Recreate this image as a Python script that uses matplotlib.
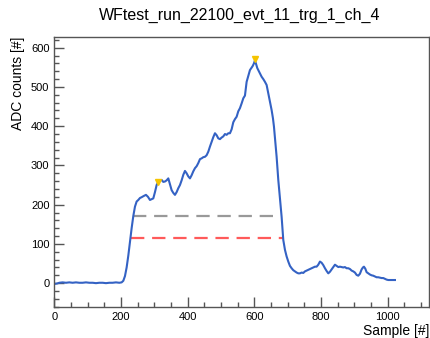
import matplotlib
matplotlib.use('Agg')
import matplotlib.pyplot as plt
from matplotlib.ticker import MultipleLocator

plt.rcParams['font.family'] = ['Liberation Sans', 'DejaVu Sans']

title = 'WFtest_run_22100_evt_11_trg_1_ch_4'

# Waveform samples
sample = [0, 8, 15, 25, 35, 45, 55, 65, 75, 85, 95, 105, 115, 125, 135, 145,
          155, 165, 175, 185, 195, 202, 207, 212, 217, 222, 227, 232, 237, 242,
          247, 252, 257, 262, 268, 275, 281, 287, 292, 297, 302, 307, 312, 317,
          322, 327, 332, 337, 342, 347, 352, 357, 362, 367, 372, 377, 382, 387,
          392, 397, 402, 407, 412, 417, 422, 427, 432, 437, 442, 447, 452, 457,
          462, 467, 472, 477, 482, 487, 492, 497, 502, 507, 512, 517, 522, 527,
          532, 537, 542, 547, 552, 557, 562, 567, 572, 577, 582, 587, 591, 595,
          599, 602, 606, 609, 612, 617, 622, 627, 632, 637, 642, 647, 652, 656,
          659, 663, 667, 672, 677, 682, 687, 692, 697, 702, 707, 712, 717, 722,
          727, 732, 737, 742, 747, 752, 757, 762, 767, 772, 777, 782, 787, 792,
          797, 802, 807, 812, 817, 822, 827, 832, 837, 842, 847, 852, 857, 862,
          867, 872, 877, 882, 887, 892, 897, 902, 907, 912, 917, 922, 926, 929,
          933, 937, 942, 947, 952, 957, 962, 967, 972, 977, 982, 987, 992, 997,
          1002, 1007, 1012, 1017, 1022]
adc = [-2, -1, 1, 2, 1, 2, 1, 2, 1, 1, 2, 1, 1, 0, 1, 1,
       0, 1, 1, 2, 1, 2, 6, 18, 40, 70, 105, 140, 171, 195,
       208, 212, 217, 219, 222, 225, 220, 212, 214, 216, 232, 250, 258, 262,
       263, 258, 259, 262, 267, 252, 237, 230, 225, 232, 242, 250, 262, 276,
       286, 280, 272, 267, 275, 285, 293, 298, 306, 316, 318, 321, 322, 326,
       335, 348, 360, 372, 382, 377, 369, 367, 371, 374, 380, 378, 382, 382,
       392, 410, 418, 424, 438, 446, 458, 471, 478, 513, 528, 543, 548, 553,
       560, 568, 557, 548, 543, 535, 526, 520, 513, 505, 484, 462, 441, 420,
       399, 360, 322, 263, 215, 169, 110, 85, 68, 55, 44, 38, 33, 30,
       27, 25, 25, 27, 26, 30, 32, 34, 36, 38, 40, 42, 42, 47,
       55, 52, 46, 38, 31, 25, 29, 35, 41, 47, 44, 41, 42, 41,
       40, 41, 38, 38, 36, 32, 30, 27, 21, 19, 24, 35, 40, 42,
       37, 28, 25, 22, 20, 19, 17, 15, 15, 14, 13, 13, 11, 9,
       8, 8, 8, 8, 8]

# Peak markers
peak_x = [312, 603]
peak_y = [258, 572]

# Threshold lines (x start, x end, level)
gray_x = [237, 672]
gray_y = [171, 171]
red_x = [229, 690]
red_y = [114, 114]

fig = plt.figure(figsize=(4.31, 3.38), dpi=100)
ax = fig.add_axes([0.126, 0.0926, 0.870, 0.7988])

ax.plot(gray_x, gray_y, color='#999999', lw=1.6, dashes=(6, 3.5))
ax.plot(red_x, red_y, color='#ff5a5a', lw=1.6, dashes=(6, 3.5))
ax.plot(sample, adc, color='#3462c4', lw=1.5)
ax.plot(peak_x, peak_y, linestyle='none', marker='v', color='#f5c400',
        markersize=5)

ax.set_xlim(0, 1125)
ax.set_ylim(-60, 628)

ax.xaxis.set_major_locator(MultipleLocator(200))
ax.xaxis.set_minor_locator(MultipleLocator(50))
ax.yaxis.set_major_locator(MultipleLocator(100))
ax.yaxis.set_minor_locator(MultipleLocator(20))

for side in ax.spines.values():
    side.set_color('#555555')
    side.set_linewidth(1.0)

ax.tick_params(which='both', direction='in', colors='#555555', labelcolor='black',
               labelsize=8, top=False, right=False)
ax.tick_params(which='major', length=7, width=1)
ax.tick_params(which='minor', length=3.5, width=1)

ax.set_xlabel('Sample [#]', fontsize=10, loc='right', labelpad=2)
ax.set_ylabel('ADC counts [#]', fontsize=10, loc='top', labelpad=4)

fig.text(0.557, 0.955, title, ha='center', va='center', fontsize=11.5)

fig.savefig('out.png', dpi=100)
